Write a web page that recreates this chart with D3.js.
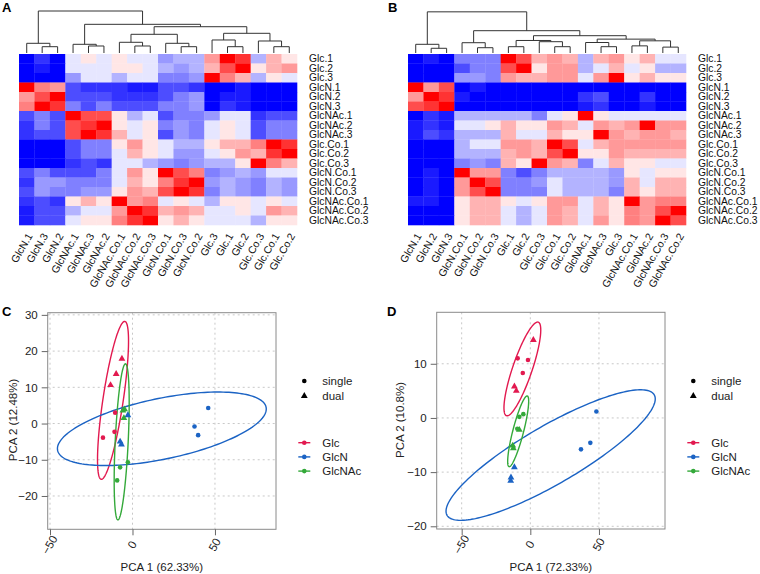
<!DOCTYPE html>
<html><head><meta charset="utf-8">
<script src="https://cdn.jsdelivr.net/npm/d3@7"></script>
<style>body{margin:0;background:#fff} text{font-family:Arial,"Liberation Sans",sans-serif}</style>
</head><body><svg id="c" width="760" height="574"></svg>
<script>
// ---------- DATA ----------
const rowLabels = ["Glc.1","Glc.2","Glc.3","GlcN.1","GlcN.2","GlcN.3","GlcNAc.1","GlcNAc.2","GlcNAc.3","Glc.Co.1","Glc.Co.2","Glc.Co.3","GlcN.Co.1","GlcN.Co.2","GlcN.Co.3","GlcNAc.Co.1","GlcNAc.Co.2","GlcNAc.Co.3"];
const colsA = ["GlcN.1","GlcN.3","GlcN.2","GlcNAc.1","GlcNAc.3","GlcNAc.2","GlcNAc.Co.1","GlcNAc.Co.2","GlcNAc.Co.3","GlcN.Co.1","GlcN.Co.3","GlcN.Co.2","Glc.3","Glc.1","Glc.2","Glc.Co.3","Glc.Co.1","Glc.Co.2"];
const colsB = ["GlcN.1","GlcN.2","GlcN.3","GlcN.Co.1","GlcN.Co.2","GlcN.Co.3","Glc.1","Glc.2","Glc.Co.3","Glc.Co.1","Glc.Co.2","GlcNAc.1","GlcNAc.3","Glc.3","GlcNAc.Co.1","GlcNAc.2","GlcNAc.Co.3","GlcNAc.Co.2"];
const heatA = [
[-10,-8,-10,-1,1,-1,1,-1,-1,-4,-3,-3,4,10,8,-3,3,1],
[-10,-9,-10,-1,-1,-1,1,1,-1,-3,-4,-3,3,7,10,1,3,4],
[-10,-10,-10,-4,-1,-1,-3,-1,-1,-5,-5,-4,10,5,3,-3,1,-1],
[10,5,4,-7,-8,-8,-8,-9,-9,-7,-7,-8,-10,-10,-9,-10,-10,-10],
[4,7,10,-7,-7,-7,-8,-8,-8,-7,-5,-4,-10,-9,-9,-10,-10,-10],
[5,10,8,-5,-7,-5,-7,-7,-7,-5,-5,-4,-10,-8,-9,-10,-10,-10],
[-7,-5,-7,10,7,7,1,-3,-1,-7,-5,-5,-4,-1,-1,-8,-7,-7],
[-8,-5,-7,7,8,10,1,-1,1,-5,-4,-5,-1,1,-1,-7,-5,-5],
[-8,-7,-7,7,10,8,3,-1,1,-7,-4,-5,-1,1,-1,-7,-5,-5],
[-10,-10,-10,-7,-5,-5,1,4,1,-1,-3,-3,1,3,3,5,10,8],
[-10,-10,-10,-7,-5,-5,-1,3,1,-1,-4,-4,-1,1,4,3,8,10],
[-10,-10,-10,-8,-7,-8,-1,-1,-3,-4,-5,-4,-3,-3,1,10,5,3],
[-7,-5,-7,-7,-7,-5,-1,4,1,10,7,5,-5,-4,-3,-4,-1,-1],
[-8,-4,-4,-5,-5,-5,-1,3,1,5,8,10,-4,-3,-4,-5,-3,-4],
[-7,-4,-5,-5,-4,-4,1,4,3,7,10,8,-5,-3,-4,-5,-3,-4],
[-8,-7,-8,1,3,1,10,4,5,-1,1,-1,-3,1,1,-1,1,-1],
[-9,-7,-7,-3,-1,-1,4,10,8,3,4,3,-1,-1,1,-1,4,3],
[-9,-7,-7,-1,1,1,5,8,10,1,3,1,-1,-1,-1,-3,1,1]];
const heatB = [
[-10,-9,-10,-5,-5,-5,10,7,3,4,3,-3,3,4,1,3,-1,-1],
[-10,-10,-10,-7,-5,-5,7,10,1,4,4,-3,-1,3,-1,1,-3,-3],
[-10,-10,-10,-4,-4,-5,4,3,3,4,4,-1,4,10,1,3,1,1],
[10,4,7,-10,-9,-10,-10,-10,-10,-10,-10,-10,-10,-10,-10,-10,-10,-10],
[4,10,8,-9,-10,-10,-10,-10,-10,-10,-10,-8,-7,-10,-10,-8,-10,-10],
[7,8,10,-10,-10,-10,-10,-10,-10,-10,-10,-9,-8,-10,-10,-9,-10,-10],
[-10,-8,-9,-3,-3,-3,-3,-3,-5,-1,1,10,1,-1,-1,-1,-1,-1],
[-9,-8,-9,-1,-1,1,3,1,1,4,3,-1,4,3,4,10,4,4],
[-9,-7,-8,-3,-3,-3,3,-1,-1,3,1,1,10,4,3,4,4,3],
[-10,-10,-10,-3,-1,-1,4,4,3,10,7,-1,3,4,4,4,4,4],
[-10,-10,-10,-3,-3,-3,3,4,3,7,10,1,1,4,3,3,3,3],
[-10,-10,-10,-5,-4,-5,3,1,10,4,3,-5,-1,3,1,1,-1,-1],
[-10,-9,-10,10,4,4,-5,-7,-5,-3,-3,-3,-3,-4,1,-1,1,1],
[-10,-9,-10,4,10,7,-5,-5,-4,-1,-3,-3,-3,-4,3,-1,3,3],
[-10,-9,-10,4,7,10,-5,-5,-5,-1,-3,-3,-3,-5,3,1,3,3],
[-9,-9,-10,1,3,3,1,-1,1,4,4,-1,3,1,10,4,5,5],
[-10,-10,-10,1,3,3,-1,-3,-1,4,3,-1,3,1,5,4,7,10],
[-10,-10,-10,1,3,3,-1,-3,-1,4,3,-1,4,1,5,4,10,7]];
// dendrograms: [height, left, right], leaves = column index
const dendroA = [1.0,[0.231,0,[0.15,1,2]],[0.683,[0.207,3,[0.167,4,5]],[0.626,[0.445,[0.255,6,[0.167,7,8]],[0.231,9,[0.15,10,11]]],[0.469,[0.31,12,[0.15,13,14]],[0.286,15,[0.15,16,17]]]]]];
const dendroB = [0.98,[0.207,0,[0.112,1,2]],[0.531,[0.245,3,[0.126,4,5]],[0.412,[0.298,[0.15,6,7],[0.269,8,[0.15,9,10]]],[0.33,[0.25,11,[0.15,12,13]],[0.29,[0.17,14,15],[0.14,16,17]]]]]];

// PCA
const groups = ["Glc","GlcN","GlcNAc"];
const groupColors = ["#e2194f","#1b63c4","#34a93a"];
const types = ["single","dual"];
const pcaC_group = ["Glc","Glc","Glc","Glc","Glc","Glc","GlcN","GlcN","GlcN","GlcN","GlcN","GlcN","GlcNAc","GlcNAc","GlcNAc","GlcNAc","GlcNAc","GlcNAc"];
const pcaC_type  = ["dual","dual","dual","single","single","single","dual","dual","dual","single","single","single","dual","dual","dual","single","single","single"];
const pcaC_x = [-6.4,-9.9,-13.3,-10.5,-10.9,-17.9,-2.8,-7.5,-6.7,45.9,37.6,39.8,-5.8,-4.8,-5.2,-2.8,-7.5,-9.3];
const pcaC_y = [17.9,13.7,10.6,3.0,-2.3,-3.9,2.3,-5.0,-5.8,4.3,-0.8,-3.2,3.6,3.9,1.5,-10.7,-12.1,-15.7];
const ellC_cx = [-11.8,17.8,-6.55], ellC_cy = [6.4,-1.45,-5.05], ellC_sx = [9.4,63.3,4.55], ellC_sy = [21.8,10.15,21.55], ellC_rho = [0.75,0.54,0.5];
const pcaD_group = pcaC_group;
const pcaD_type  = ["dual","dual","dual","single","single","single","dual","dual","dual","single","single","single","dual","dual","dual","single","single","single"];
const pcaD_x = [2.2,-11.6,-10.2,-9.2,-1.7,-5.5,-11.6,-14.1,-14.3,48.1,43.7,36.9,-8.0,-12.8,-12.4,-5.1,-8.0,-9.5];
const pcaD_y = [14.4,5.8,5.0,11.0,10.7,8.3,-9.1,-11.0,-11.6,1.2,-4.6,-5.8,-2.2,-5.1,-5.6,0.7,0.2,-2.0];
const ellD_cx = [-5.8,14.8,-8.85], ellD_cy = [9.05,-6.85,-2.47], ellD_sx = [13.4,76.2,7.65], ellD_sy = [8.65,12.05,6.53], ellD_rho = [0.83,0.86,0.85];

const tickC_x = [-50,0,50], tickC_y = [-20,-10,0,10,20,30];
const tickD_x = [-50,0,50], tickD_y = [-20,-10,0,10];

// ---------- DRAW ----------
const svg = d3.select("#c");
const color = d3.scaleLinear().domain([-10,0,10]).range(["#0000ff","#ffffff","#ff0000"]);

function heatmap(x0, cols, mat, tree, labelX) {
  const g = svg.append("g");
  const xs = d3.scaleBand().domain(d3.range(cols.length)).range([x0, x0+278]);
  const ys = d3.scaleBand().domain(d3.range(rowLabels.length)).range([54, 225]);
  mat.forEach((row, i) => row.forEach((v, j) => {
    g.append("rect").attr("x", xs(j)).attr("y", ys(i)).attr("width", xs.bandwidth()+0.3).attr("height", ys.bandwidth()+0.3).attr("fill", color(v));
  }));
  rowLabels.forEach((r, i) => g.append("text").attr("x", labelX).attr("y", ys(i)+ys.bandwidth()/2).attr("dy","0.35em").attr("font-size",10.3).attr("fill","#111").text(r));
  cols.forEach((c, j) => {
    const cx = xs(j)+xs.bandwidth()/2 + 3, cy = 234;
    g.append("text").attr("transform",`translate(${cx},${cy}) rotate(-60)`).attr("text-anchor","end").attr("dy","0.35em").attr("font-size",10.5).attr("fill","#111").text(c);
  });
  // dendrogram
  const root = d3.hierarchy(tree, d => Array.isArray(d) ? d.slice(1) : null);
  const hy = d3.scaleLinear().domain([0,1]).range([53, 11]);
  root.eachAfter(n => {
    if (!n.children) { n.px = xs(n.data)+xs.bandwidth()/2; n.h = 0; }
    else { n.px = d3.mean(n.children, c => c.px); n.h = n.data[0]; }
  });
  root.each(n => {
    if (!n.children) return;
    const [a, b] = n.children;
    const p = d3.path();
    p.moveTo(a.px, hy(a.h)); p.lineTo(a.px, hy(n.h)); p.lineTo(b.px, hy(n.h)); p.lineTo(b.px, hy(b.h));
    g.append("path").attr("d", p.toString()).attr("fill","none").attr("stroke","#333").attr("stroke-width",1);
  });
}
heatmap(19, colsA, heatA, dendroA, 309);
heatmap(408, colsB, heatB, dendroB, 698);

function pca(cfg) {
  const g = svg.append("g");
  const x = d3.scaleLinear().domain(cfg.xd).range([cfg.l, cfg.r]);
  const y = d3.scaleLinear().domain(cfg.yd).range([cfg.b, cfg.t]);
  // grid
  cfg.tx.forEach(v => g.append("line").attr("x1",x(v)).attr("x2",x(v)).attr("y1",cfg.t).attr("y2",cfg.b).attr("stroke","#c8c8c8").attr("stroke-dasharray","2,3"));
  cfg.ty.forEach(v => g.append("line").attr("y1",y(v)).attr("y2",y(v)).attr("x1",cfg.l).attr("x2",cfg.r).attr("stroke","#c8c8c8").attr("stroke-dasharray","2,3"));
  g.append("rect").attr("x",cfg.l).attr("y",cfg.t).attr("width",cfg.r-cfg.l).attr("height",cfg.b-cfg.t).attr("fill","none").attr("stroke","#8a8a8a");
  // axes
  const ya = d3.axisLeft(y).tickValues(cfg.ty).tickSize(6).tickPadding(4);
  const yg = g.append("g").attr("transform",`translate(${cfg.l},0)`).call(ya);
  yg.select(".domain").remove();
  yg.selectAll("line").attr("stroke","#666");
  yg.selectAll("text").attr("font-size",11.5).attr("fill","#222").attr("font-family","Arial,'Liberation Sans',sans-serif");
  const xa = d3.axisBottom(x).tickValues(cfg.tx).tickSize(6).tickFormat(d3.format("d"));
  const xg = g.append("g").attr("transform",`translate(0,${cfg.b})`).call(xa);
  xg.select(".domain").remove();
  xg.selectAll("line").attr("stroke","#666");
  xg.selectAll("text").attr("font-size",11.5).attr("fill","#222").attr("font-family","Arial,'Liberation Sans',sans-serif")
    .attr("y",0).attr("dy",0).attr("text-anchor","middle").attr("transform","translate(0,16) rotate(-60)").attr("dominant-baseline","middle");
  // titles
  g.append("text").attr("x",(cfg.l+cfg.r)/2).attr("y",567).attr("dy","0.35em").attr("text-anchor","middle").attr("font-size",11.5).attr("fill","#222").text(cfg.xt);
  g.append("text").attr("transform",`translate(${cfg.ytx},420) rotate(-90)`).attr("dy","0.35em").attr("text-anchor","middle").attr("font-size",11.5).attr("fill","#222").text(cfg.yt);
  g.append("text").attr("x",cfg.lx).attr("y",316).attr("font-size",13).attr("font-weight","bold").text(cfg.letter);
  // ellipses
  const line = d3.line().x(d => x(d[0])).y(d => y(d[1]));
  groups.forEach((gr, k) => {
    const pts = d3.range(0, 2*Math.PI+0.001, Math.PI/90).map(t => [
      cfg.ecx[k] + cfg.esx[k]*Math.cos(t),
      cfg.ecy[k] + cfg.esy[k]*(cfg.erho[k]*Math.cos(t) + Math.sqrt(1-cfg.erho[k]**2)*Math.sin(t))]);
    g.append("path").attr("d", line(pts)+"Z").attr("fill","none").attr("stroke",groupColors[k]).attr("stroke-width",1.4);
  });
  // points
  const sym = d3.symbol().type(d3.symbolTriangle).size(20);
  cfg.px.forEach((v, i) => {
    const c = groupColors[groups.indexOf(cfg.pg[i])];
    if (cfg.pt[i] === "single") g.append("circle").attr("cx",x(v)).attr("cy",y(cfg.py[i])).attr("r",2.3).attr("fill",c);
    else g.append("path").attr("d",sym()).attr("transform",`translate(${x(v)},${y(cfg.py[i])})`).attr("fill",c);
  });
  // legend
  const lx = cfg.legX;
  g.append("circle").attr("cx",lx).attr("cy",381).attr("r",2.3).attr("fill","#000");
  g.append("path").attr("d",sym()).attr("transform",`translate(${lx},396)`).attr("fill","#000");
  types.forEach((t, i) => g.append("text").attr("x",lx+18).attr("y",381+i*15).attr("dy","0.35em").attr("font-size",11.5).attr("fill","#222").text(t));
  groups.forEach((gr, k) => {
    const yy = 442.7 + k*14.2;
    g.append("line").attr("x1",lx-6).attr("x2",lx+6).attr("y1",yy).attr("y2",yy).attr("stroke",groupColors[k]).attr("stroke-width",1.4);
    g.append("circle").attr("cx",lx).attr("cy",yy).attr("r",2.3).attr("fill",groupColors[k]);
    g.append("text").attr("x",lx+18).attr("y",yy).attr("dy","0.35em").attr("font-size",11.5).attr("fill","#222").text(gr);
  });
}
pca({l:47.7,r:276,t:312.7,b:529.3,xd:[-51.4,87],yd:[-29.2,30.6],tx:tickC_x,ty:tickC_y,
  xt:"PCA 1 (62.33%)",yt:"PCA 2 (12.48%)",ytx:13,lx:2,letter:"C",
  ecx:ellC_cx,ecy:ellC_cy,esx:ellC_sx,esy:ellC_sy,erho:ellC_rho,
  px:pcaC_x,py:pcaC_y,pg:pcaC_group,pt:pcaC_type,legX:304.3});
pca({l:436.7,r:665,t:312.3,b:529,xd:[-68.2,98.1],yd:[-20.5,19.5],tx:tickD_x,ty:tickD_y,
  xt:"PCA 1 (72.33%)",yt:"PCA 2 (10.8%)",ytx:400,lx:387,letter:"D",
  ecx:ellD_cx,ecy:ellD_cy,esx:ellD_sx,esy:ellD_sy,erho:ellD_rho,
  px:pcaD_x,py:pcaD_y,pg:pcaD_group,pt:pcaD_type,legX:693.3});
svg.append("text").attr("x",2).attr("y",12).attr("font-size",13).attr("font-weight","bold").text("A");
svg.append("text").attr("x",388).attr("y",12).attr("font-size",13).attr("font-weight","bold").text("B");
</script></body></html>
